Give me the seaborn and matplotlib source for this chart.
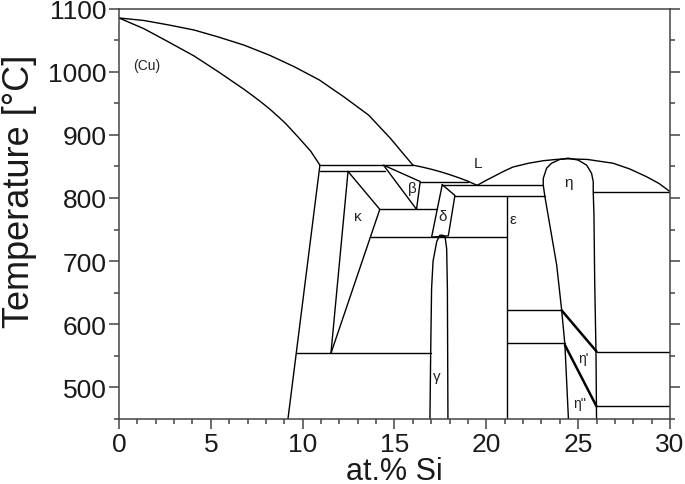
import matplotlib
matplotlib.use("Agg")
import matplotlib.pyplot as plt
from matplotlib.ticker import MultipleLocator
import seaborn as sns

# --- phase boundaries (at.% Si, temperature in C) ---
liq_cu_x = [0.0, 1.36, 2.7, 4.08, 5.4, 6.81, 8.2, 9.53, 10.9, 12.25, 13.6, 14.79, 16.0]
liq_cu_t = [1085, 1081, 1074, 1066, 1055, 1042, 1026, 1008, 987, 960, 931, 894, 852]
sol_cu_x = [0.0, 1.36, 2.7, 4.08, 5.4, 6.81, 7.6, 8.2, 8.7, 9.07, 9.8, 10.44, 10.94]
sol_cu_t = [1085, 1068, 1047, 1025, 1000, 972, 955, 941, 928, 918, 895, 874, 852]
solvus_cu_x = [10.94, 9.2]
solvus_cu_t = [852, 450]

liq_beta_x = [16.0, 16.5, 17.0, 17.5, 18.0, 18.5, 19.0, 19.5]
liq_beta_t = [852, 849, 845.5, 841.5, 837, 832, 826.5, 820]
liq_eta_x = [19.5, 20.0, 20.4, 21.0, 21.45, 22.3, 23.1, 23.8, 24.4, 25.5,
             26.9, 27.8, 28.7, 29.4, 30.0]
liq_eta_t = [820, 828, 834, 843, 849, 855, 859, 861, 862, 861,
             855, 846, 834, 823, 810]

kappa_left_x = [12.47, 11.54]
kappa_left_t = [842, 554]
kappa_right_x = [12.47, 14.2, 11.54]
kappa_right_t = [842, 782, 554]

beta_x = [16.2, 14.4, 16.4, 16.2]
beta_t = [782, 852, 826, 782]

delta_x = [17.6, 18.29, 17.93, 17.02, 17.6]
delta_t = [821, 804, 740, 738, 821]

gamma_x = [16.93, 16.97, 17.02, 17.1, 17.3, 17.47, 17.62, 17.75, 17.84, 17.88, 17.91]
gamma_t = [450, 554, 657, 700, 731, 741, 741, 739, 720, 657, 450]

eps_x = [21.1, 21.1]
eps_t = [803, 450]

eta_x = [24.47, 24.28, 24.1, 23.83, 23.19, 23.1, 23.1, 23.28, 23.55, 24.0, 24.46,
         25.0, 25.46, 25.73, 25.82, 25.82, 25.86, 25.9, 25.97, 26.0]
eta_t = [450, 567, 623, 694, 802, 820, 831, 847, 855, 861, 863,
         860, 852, 839, 826, 810, 773, 668, 557, 450]

eta1_x = [24.1, 26.0]
eta1_t = [622, 557]
eta2_x = [24.28, 26.0]
eta2_t = [567, 470]

# invariant (horizontal) lines
iso_t = [852, 842, 826, 820, 810, 803, 782, 738, 622, 570, 556, 554, 470]
iso_x0 = [10.94, 10.94, 16.4, 17.6, 25.82, 18.29, 14.2, 13.69, 21.1, 21.1, 26.0, 9.63, 26.0]
iso_x1 = [16.0, 14.5, 19.0, 23.1, 30.0, 23.19, 17.32, 21.1, 24.1, 24.28, 30.0, 16.97, 30.0]

# phase labels
lab_text = ["(Cu)", "L", "\u03b2", "\u03ba", "\u03b4", "\u03b5", "\u03b7", "\u03b3", "\u03b7'", "\u03b7''"]
lab_x = [1.5, 19.55, 15.95, 13.0, 17.64, 21.45, 24.5, 17.3, 25.26, 25.1]
lab_y = [1010, 855, 815, 771, 772, 766, 825, 518, 546, 475]
lab_size = [10, 11, 11, 11, 11, 11, 11, 11, 10, 10]

sns.set_theme(style="ticks")
plt.rcParams['font.family'] = ['Liberation Sans', 'DejaVu Sans']

fig = plt.figure(figsize=(6.85, 4.85), dpi=100)
ax = fig.add_axes([0.1737, 0.134, 0.8044, 0.8464])


def draw(x, t, lw=1.0):
    sns.lineplot(x=x, y=t, sort=False, estimator=None, color='black',
                 lw=lw, ax=ax, legend=False)


for x, t in [(liq_cu_x, liq_cu_t), (sol_cu_x, sol_cu_t), (solvus_cu_x, solvus_cu_t),
             (liq_beta_x, liq_beta_t), (liq_eta_x, liq_eta_t),
             (kappa_left_x, kappa_left_t), (kappa_right_x, kappa_right_t),
             (beta_x, beta_t), (delta_x, delta_t), (gamma_x, gamma_t),
             (eps_x, eps_t), (eta_x, eta_t)]:
    draw(x, t)

draw(eta1_x, eta1_t, lw=1.8)
draw(eta2_x, eta2_t, lw=1.8)

for t, x0, x1 in zip(iso_t, iso_x0, iso_x1):
    draw([x0, x1], [t, t])

for s, x, y, fs in zip(lab_text, lab_x, lab_y, lab_size):
    ax.text(x, y, s, fontsize=fs, ha='center', va='center', color='#222222')

ax.set_xlim(0, 30)
ax.set_ylim(450, 1100)
ax.xaxis.set_major_locator(MultipleLocator(5))
ax.xaxis.set_minor_locator(MultipleLocator(1))
ax.yaxis.set_major_locator(MultipleLocator(100))
ax.yaxis.set_minor_locator(MultipleLocator(50))

for sp in ax.spines.values():
    sp.set_color('#444444')
    sp.set_linewidth(1.1)
ax.tick_params(which='both', direction='out', right=True, top=False,
               color='#444444', width=1.1, labelsize=19, labelcolor='#1a1a1a', pad=2)
ax.tick_params(which='major', length=7)
ax.tick_params(which='minor', length=3.5)

ax.set_xlabel("at.% Si", fontsize=22, color='#1a1a1a', labelpad=0)
ax.set_ylabel("Temperature [\u00b0C]", fontsize=26, color='#1a1a1a')
ax.yaxis.set_label_coords(-0.148, 0.558)

fig.savefig("out.png", dpi=100)
